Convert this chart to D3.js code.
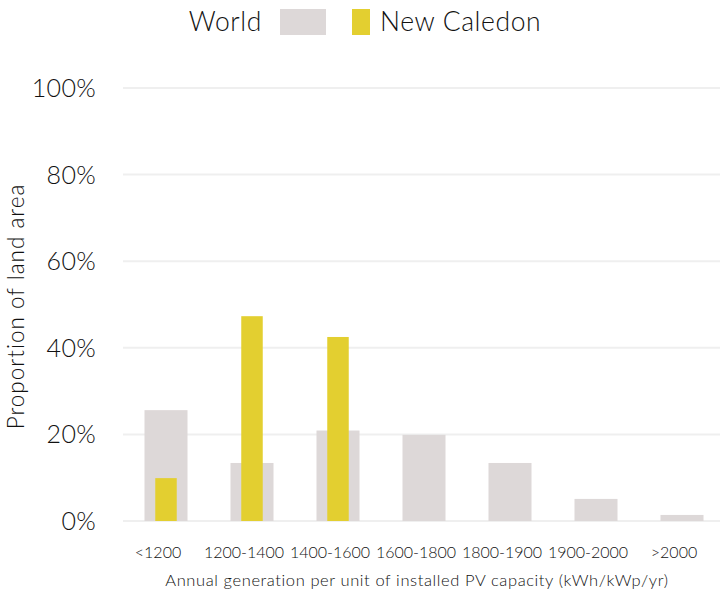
<!DOCTYPE html>
<html>
<head>
<meta charset="utf-8">
<script src="https://cdn.jsdelivr.net/npm/d3@7"></script>
<style>
  body { margin: 0; background: #fff; }
  text { font-family: Lato, 'Open Sans', sans-serif; font-weight: 300; fill: #111; }
</style>
</head>
<body>
<svg id="chart" width="720" height="595"></svg>
<script>
const categories = ['<1200', '1200-1400', '1400-1600', '1600-1800', '1800-1900', '1900-2000', '>2000']
const worldValues = [25.6, 13.4, 20.9, 19.9, 13.4, 5.1, 1.4]
const countryValues = [9.9, 47.3, 42.5, 0, 0, 0, 0]
const yTicks = [0, 20, 40, 60, 80, 100]
const seriesNames = ['World', 'New Caledon']

const svg = d3.select('#chart')
const margin = { top: 88, right: 0, bottom: 74, left: 123 }
const width = 720, height = 595

const x = d3.scaleBand()
  .domain(categories)
  .range([margin.left, margin.left + 602])
  .paddingInner(0.5)
  .paddingOuter(0.25)

const y = d3.scaleLinear()
  .domain([0, 100])
  .range([height - margin.bottom, margin.top])

// gridlines
svg.append('g')
  .selectAll('line')
  .data(yTicks)
  .join('line')
  .attr('x1', margin.left)
  .attr('x2', width)
  .attr('y1', (d) => y(d))
  .attr('y2', (d) => y(d))
  .attr('stroke', '#efefef')
  .attr('stroke-width', 2)

// y tick labels
svg.append('g')
  .selectAll('text')
  .data(yTicks)
  .join('text')
  .attr('x', 96)
  .attr('y', (d) => y(d))
  .attr('dy', '0.36em')
  .attr('text-anchor', 'end')
  .style('font-size', '25px')
  .style('letter-spacing', '0.3px')
  .text((d) => d + '%')

// world bars
svg.append('g')
  .selectAll('rect')
  .data(worldValues)
  .join('rect')
  .attr('x', (_, i) => x(categories[i]))
  .attr('width', x.bandwidth())
  .attr('y', (d) => y(d))
  .attr('height', (d) => y(0) - y(d))
  .attr('fill', '#ddd8d8')

// country bars (half width, centered)
svg.append('g')
  .selectAll('rect')
  .data(countryValues)
  .join('rect')
  .attr('x', (_, i) => x(categories[i]) + x.bandwidth() / 4)
  .attr('width', x.bandwidth() / 2)
  .attr('y', (d) => y(d))
  .attr('height', (d) => y(0) - y(d))
  .attr('fill', '#e3cf30')

// x tick labels (sit a bit left of the bar centres in the original)
svg.append('g')
  .selectAll('text')
  .data(categories)
  .join('text')
  .attr('x', (d) => x(d) + x.bandwidth() / 2)
  .attr('dx', -8)
  .attr('y', 558)
  .attr('text-anchor', 'middle')
  .style('font-size', '16px')
  .text((d) => d)

// axis titles
svg.append('text')
  .attr('x', 417)
  .attr('y', 586)
  .attr('text-anchor', 'middle')
  .style('font-size', '16.5px')
  .style('letter-spacing', '0.6px')
  .text('Annual generation per unit of installed PV capacity (kWh/kWp/yr)')

svg.append('text')
  .attr('transform', `translate(24, ${(y(0) + y(100)) / 2 + 2}) rotate(-90)`)
  .attr('text-anchor', 'middle')
  .style('font-size', '22.5px')
  .style('letter-spacing', '1px')
  .text('Proportion of land area')

// legend
const legend = svg.append('g')
legend.append('text').attr('x', 262).attr('y', 31).attr('text-anchor', 'end')
  .style('font-size', '26.5px').style('letter-spacing', '0.6px').text(seriesNames[0])
legend.append('rect').attr('x', 280).attr('y', 9).attr('width', 46).attr('height', 26)
  .attr('fill', '#ddd8d8')
legend.append('rect').attr('x', 352).attr('y', 9).attr('width', 18).attr('height', 26)
  .attr('fill', '#e3cf30')
legend.append('text').attr('x', 380).attr('y', 31)
  .style('font-size', '26.5px').style('letter-spacing', '0.6px').text(seriesNames[1])
</script>
</body>
</html>
